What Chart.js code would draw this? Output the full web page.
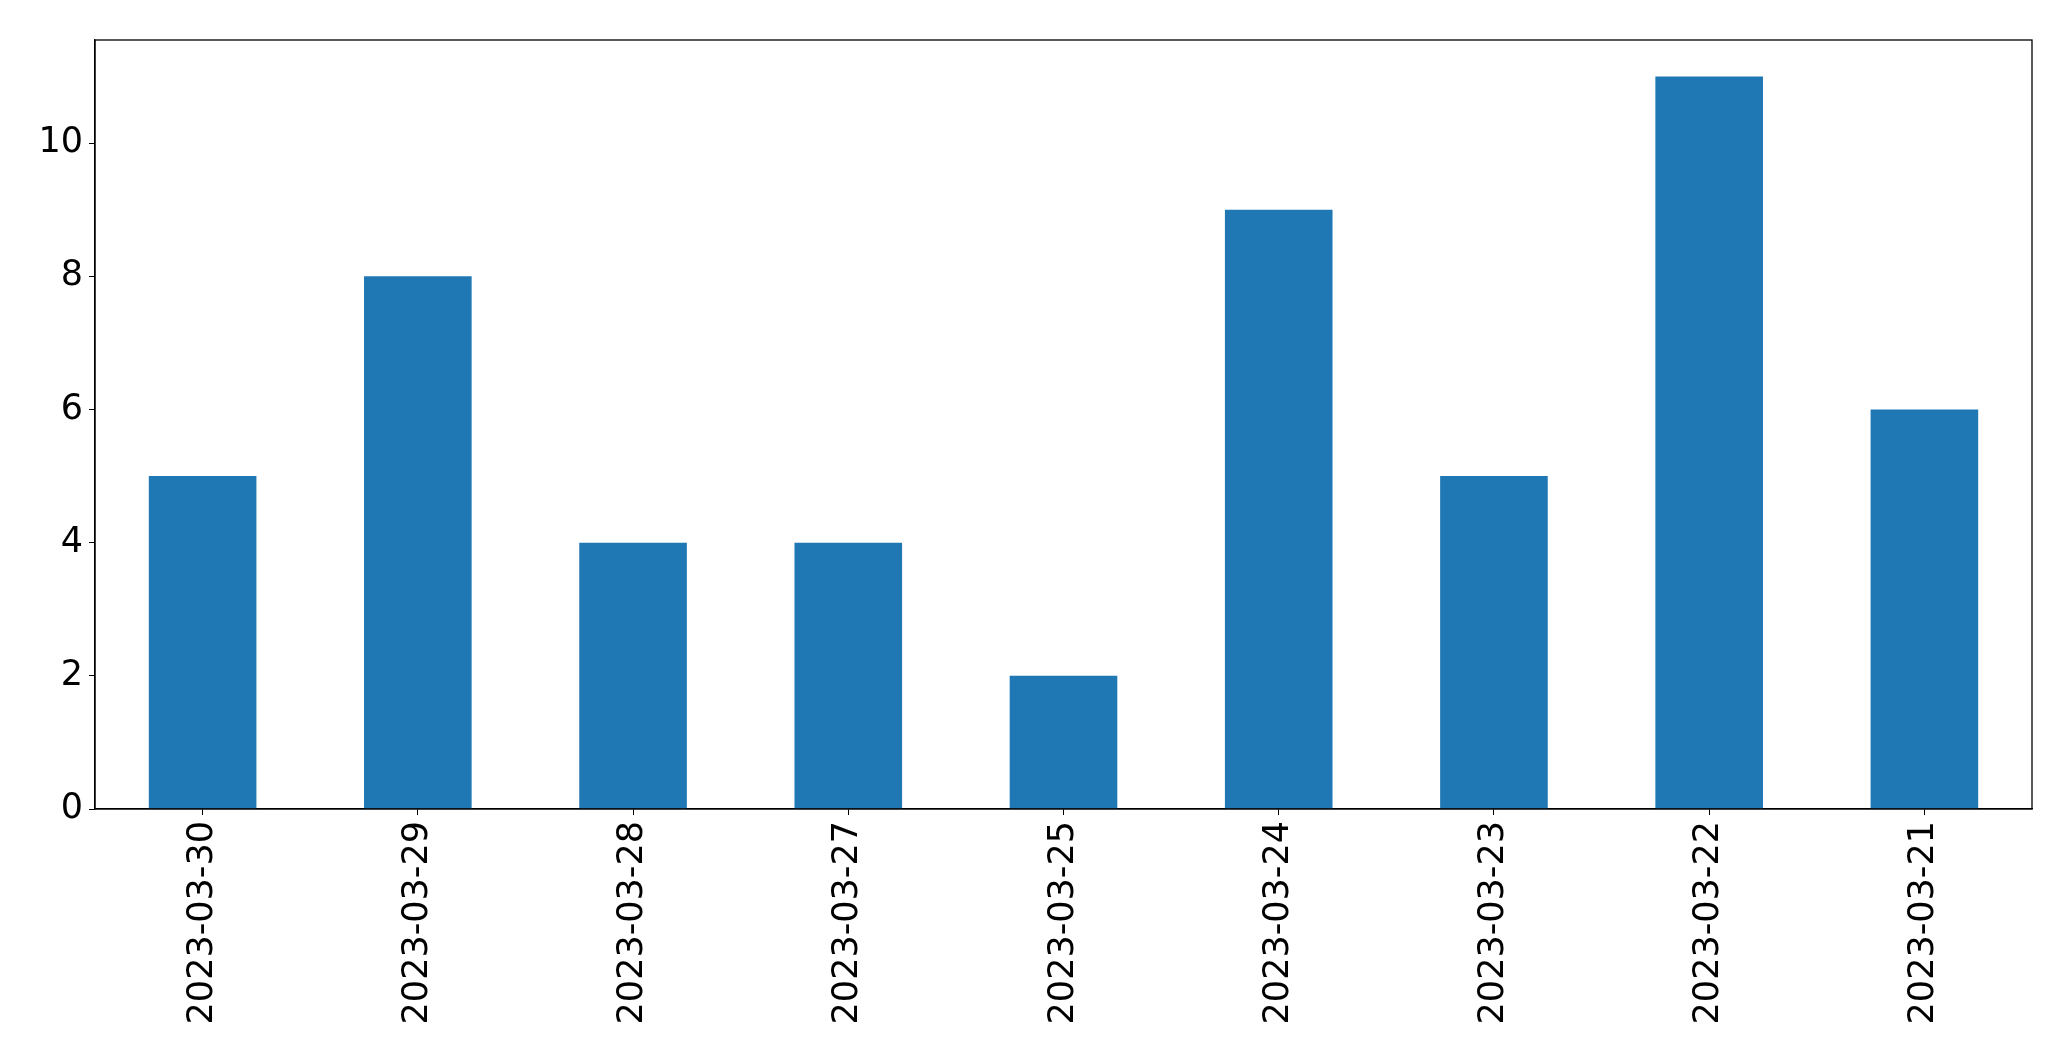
<!DOCTYPE html>
<html lang="en">
<head>
    <meta charset="UTF-8">
    <title>Bar chart</title>
    <script src="https://cdn.jsdelivr.net/npm/chart.js"></script>
    <style>
        html, body {
            margin: 0;
            padding: 0;
            background: #fff;
        }
        .chart-box {
            width: 2071px;
            height: 1061px;
        }
    </style>
</head>
<body>
    <div class="chart-box">
        <canvas id="bar-chart" width="2071" height="1061"></canvas>
    </div>
    <script>
        // data
        const dates = ['2023-03-30', '2023-03-29', '2023-03-28', '2023-03-27', '2023-03-25',
                       '2023-03-24', '2023-03-23', '2023-03-22', '2023-03-21'];
        const counts = [5, 8, 4, 4, 2, 9, 5, 11, 6];
        const yTicks = [0, 2, 4, 6, 8, 10];
        const yMax = 11.55;

        const fontSpec = { family: 'DejaVu Sans', size: 35 };

        // frame round the plot area (top and right edges too)
        const framePlugin = {
            id: 'frame',
            afterDraw(chart) {
                const a = chart.chartArea;
                const ctx = chart.ctx;
                ctx.save();
                ctx.strokeStyle = '#000';
                ctx.lineWidth = 1.3;
                ctx.strokeRect(a.left, a.top, a.right - a.left, a.bottom - a.top);
                ctx.restore();
            }
        };

        const ctx = document.getElementById('bar-chart').getContext('2d');
        new Chart(ctx, {
            type: 'bar',
            data: {
                labels: dates,
                datasets: [{
                    data: counts,
                    backgroundColor: '#1f77b4',
                    borderWidth: 0,
                    categoryPercentage: 1.0,
                    barPercentage: 0.5
                }]
            },
            options: {
                responsive: false,
                animation: false,
                layout: {
                    padding: { top: 40, right: 39, left: 0, bottom: 0 }
                },
                plugins: {
                    legend: { display: false },
                    tooltip: { enabled: false }
                },
                scales: {
                    x: {
                        offset: true,
                        grid: {
                            display: true,
                            drawOnChartArea: false,
                            drawTicks: true,
                            tickLength: 6,
                            color: '#000',
                            offset: false
                        },
                        border: { display: true, color: '#000', width: 1.3 },
                        ticks: {
                            color: '#000',
                            font: fontSpec,
                            minRotation: 90,
                            maxRotation: 90,
                            padding: 6,
                            autoSkip: false
                        },
                        afterFit(scale) {
                            scale.height = 252;
                        }
                    },
                    y: {
                        min: 0,
                        max: yMax,
                        afterBuildTicks(scale) {
                            scale.ticks = yTicks.map(v => ({ value: v }));
                        },
                        grid: {
                            display: true,
                            drawOnChartArea: false,
                            drawTicks: true,
                            tickLength: 6,
                            color: '#000'
                        },
                        border: { display: true, color: '#000', width: 1.3 },
                        ticks: {
                            color: '#000',
                            font: fontSpec,
                            padding: 6
                        },
                        afterFit(scale) {
                            scale.width = 95;
                        }
                    }
                }
            },
            plugins: [framePlugin]
        });
    </script>
</body>
</html>
